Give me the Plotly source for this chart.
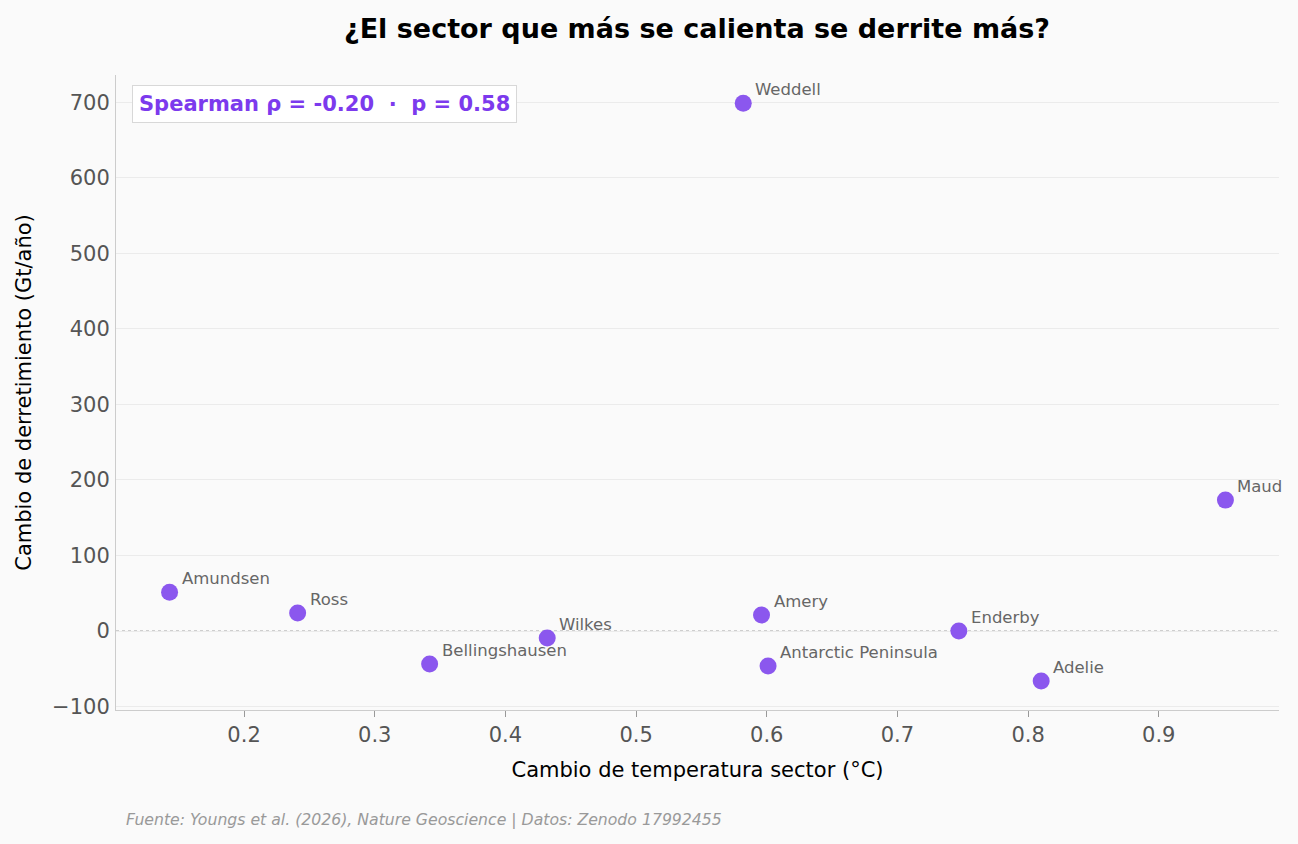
import plotly.graph_objects as go

sectors = ["Amundsen", "Ross", "Bellingshausen", "Wilkes", "Weddell", "Amery",
           "Antarctic Peninsula", "Enderby", "Adelie", "Maud"]
temp_change = [0.143, 0.241, 0.342, 0.432, 0.582, 0.596, 0.601, 0.747, 0.810, 0.951]
melt_change = [51.5, 23.8, -43.7, -9.3, 698.5, 21.2, -46.3, 0.0, -66.2, 173.3]

x_ticks = [0.2, 0.3, 0.4, 0.5, 0.6, 0.7, 0.8, 0.9]
y_ticks = [-100, 0, 100, 200, 300, 400, 500, 600, 700]

FONT = "DejaVu Sans"
PURPLE = "#8b57ee"

fig = go.Figure()
fig.add_trace(go.Scatter(
    x=temp_change, y=melt_change, mode="markers",
    marker=dict(size=17, color=PURPLE, line=dict(width=0)),
    hoverinfo="text", text=sectors, showlegend=False,
))

for name, xv, yv in zip(sectors, temp_change, melt_change):
    fig.add_annotation(x=xv, y=yv, text=name, showarrow=False,
                       xanchor="left", yanchor="middle", xshift=10, yshift=14,
                       font=dict(family=FONT, size=16.5, color="#666666"))

fig.add_annotation(xref="paper", yref="paper", x=0.0135, y=0.955,
                   text="<b>Spearman ρ = -0.20  ·  p = 0.58</b>", showarrow=False,
                   xanchor="left", yanchor="middle",
                   font=dict(family=FONT, size=21, color="#7c3aed"),
                   bgcolor="#ffffff", bordercolor="#d8d8d8", borderwidth=1, borderpad=6)

fig.add_annotation(xref="paper", yref="paper", x=0.0065, y=-0.173,
                   text="<i>Fuente: Youngs et al. (2026), Nature Geoscience | Datos: Zenodo 17992455</i>",
                   showarrow=False, xanchor="left", yanchor="middle",
                   font=dict(family=FONT, size=15.7, color="#999999"))

fig.add_shape(type="line", xref="paper", yref="y", x0=0, x1=1, y0=0, y1=0,
              line=dict(color="#999999", width=1, dash="dot"), layer="below")

fig.update_layout(
    width=1298, height=844,
    paper_bgcolor="#fafafa", plot_bgcolor="#fafafa",
    margin=dict(l=116, r=19, t=75, b=134),
    title=dict(text="<b>¿El sector que más se calienta se derrite más?</b>",
               x=0.537, xanchor="center", y=0.966, yanchor="middle",
               font=dict(family=FONT, size=27, color="#000000")),
    font=dict(family=FONT),
)
fig.update_xaxes(range=[0.102, 0.992], tickvals=x_ticks,
                 ticktext=[f"{v:g}" for v in x_ticks],
                 showgrid=False, zeroline=False,
                 showline=True, linecolor="#cccccc", linewidth=1,
                 ticks="outside", ticklen=6, tickcolor="#999999",
                 tickfont=dict(family=FONT, size=21, color="#555555"),
                 title=dict(text="Cambio de temperatura sector (°C)", standoff=16,
                            font=dict(family=FONT, size=21, color="#000000")))
fig.update_yaxes(range=[-104.5, 736], tickvals=y_ticks,
                 ticktext=[("−100" if v < 0 else str(v)) for v in y_ticks],
                 showgrid=True, gridcolor="#ebebeb", gridwidth=1, zeroline=False,
                 showline=True, linecolor="#cccccc", linewidth=1,
                 ticks="", ticklabelstandoff=1,
                 tickfont=dict(family=FONT, size=21, color="#555555"),
                 title=dict(text="Cambio de derretimiento (Gt/año)", standoff=14,
                            font=dict(family=FONT, size=21, color="#000000")))

fig.write_html("out.html")
